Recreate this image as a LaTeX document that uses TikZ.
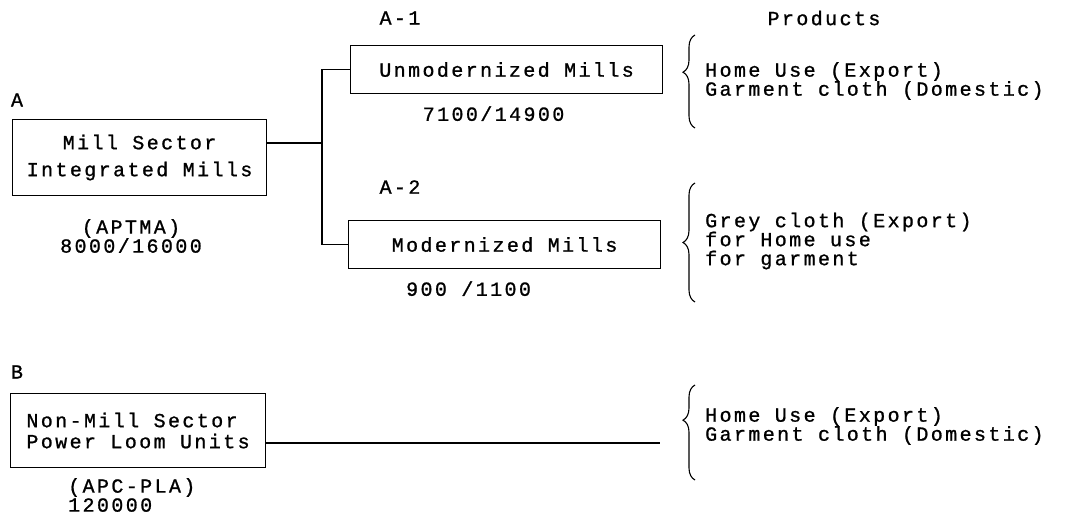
\documentclass[tikz,border=0pt]{standalone}
\usepackage{fontspec}
\newfontfamily\typefont[LetterSpace=12, FakeBold=1]{Liberation Mono}
\usepackage{tikz}
\usetikzlibrary{
  positioning,
  calc,
  decorations.pathreplacing
}

\tikzset{
  sector box/.style={draw, line width=1.1pt, inner sep=0pt, anchor=north west},
  tag/.style={inner sep=0pt},
  link/.style={line width=1.1pt},
  product brace/.style={decorate, line width=1.1pt,
    decoration={brace, amplitude=12pt}},
  product list/.style={inner sep=0pt, anchor=west, align=left}
}

\begin{document}
\begin{tikzpicture}[x=1pt, y=-1pt, font=\typefont\fontsize{20}{19}\selectfont]
\useasboundingbox (0,0) rectangle (1072,529);

% A : mill sector
\node[tag] (labelA) at (17,100) {A};
\node[sector box, minimum width=254pt, minimum height=76pt, align=center,
      font=\typefont\fontsize{20}{27}\selectfont] (mill) at (12,119)
      {Mill Sector\\Integrated Mills};
\node[tag, align=center, font=\typefont\fontsize{20}{19}\selectfont]
      (aptma) at (131,236) {(APTMA)\\8000/16000};

% A-1 and A-2
\node[sector box, minimum width=312pt, minimum height=48pt] (unmod) at (350,45)
      {Unmodernized Mills};
\node[tag] (labelA1) at (400,18) {A-1};
\node[tag, below=12pt of unmod.south, xshift=-13pt] (unmodcap) {7100/14900};

\node[sector box, minimum width=312pt, minimum height=48pt] (mod) at (348,220)
      {Modernized Mills};
\node[tag] (labelA2) at (400,187) {A-2};
\node[tag, below=12pt of mod.south, xshift=-36pt] (modcap) {900 /1100};

\coordinate (fork) at (322,143);
\draw[link] (mill.east |- fork) -- (fork);
\draw[link] (unmod.west) -| (fork) |- (mod.west);

% products
\node[tag] (products) at (824,18) {Products};

\coordinate (braceAtop) at (695,35);
\coordinate (braceAbot) at (695,128);
\draw[product brace, decoration={aspect=0.6}] (braceAbot) -- (braceAtop);
\node[product list] (useA1) at (705,81)
      {Home Use (Export)\\Garment cloth (Domestic)};

\coordinate (braceBtop) at (695,183);
\coordinate (braceBbot) at (695,302);
\draw[product brace, decoration={aspect=0.5}] (braceBbot) -- (braceBtop);
\node[product list] (useA2) at (705,241)
      {Grey cloth (Export)\\for Home use\\for garment};

% B : non-mill sector
\node[tag] (labelB) at (17,372) {B};
\node[sector box, minimum height=74pt, minimum width=255pt,
      align=left, font=\typefont\fontsize{20}{21}\selectfont] (power) at (10,393)
      {Non-Mill Sector\\Power Loom Units};
\node[tag, anchor=west, align=left] (apc) at (68,495) {(APC-PLA)\\120000};

\coordinate (loomend) at (660,443);
\draw[link] (power.east |- loomend) -- (loomend);

\coordinate (braceCtop) at (695,385);
\coordinate (braceCbot) at (695,480);
\draw[product brace, decoration={aspect=0.63}] (braceCbot) -- (braceCtop);
\node[product list] (useB) at (705,426)
      {Home Use (Export)\\Garment cloth (Domestic)};
\end{tikzpicture}
\end{document}
